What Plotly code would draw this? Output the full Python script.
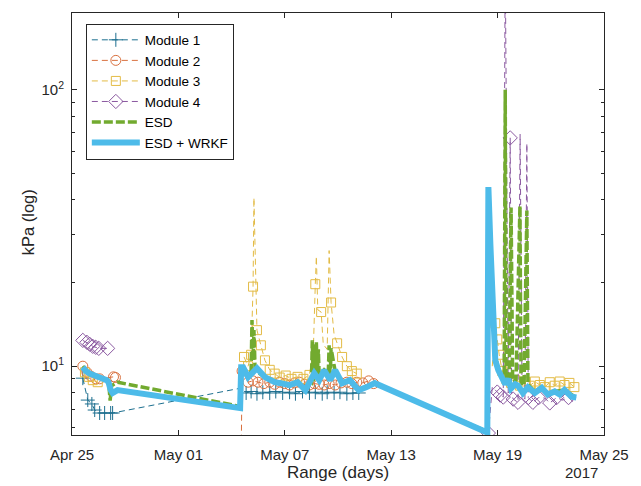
import pandas as pd
import plotly.graph_objects as go

BASE = pd.Timestamp("2017-04-25")

# ---- data (day offsets from Apr 25 2017, values in kPa) ----
m1_d = [0.61, 0.89, 1.12, 1.28, 1.56, 1.84, 2.18, 2.29,
        9.40, 9.82, 10.10, 10.43, 10.76, 11.15, 11.49, 11.88, 12.27, 12.60,
        13.00, 13.39, 13.72, 14.11, 14.39, 14.78, 15.11, 15.50, 15.84, 16.17]
m1_v = [9.05, 7.54, 7.3, 6.94, 6.77, 6.77, 6.77, 6.77,
        8.3, 8.0, 8.1, 7.95, 8.05, 8.0, 8.1, 8.0, 8.05, 7.95,
        8.1, 8.0, 8.05, 7.95, 8.05, 8.0, 8.05, 7.95, 8.0, 8.0]
m1_mark = [1] * len(m1_d)
m1_mark[8] = 0

m2_d = [0.61, 0.84, 1.06, 1.34, 1.56, 2.34, 2.45, None,
        9.51, 9.59, 9.93, 10.20, 10.49, 10.82, 11.15, 11.43, 11.71, 11.99, 12.27,
        12.55, 12.83, 13.11, 13.39, 13.66, 13.94, 14.22, 14.50, 14.84, 15.17,
        15.50, 15.78, 16.06, 16.40, 16.73, 17.01]
m2_v = [10.0, 9.5, 9.2, 9.0, 9.0, 9.15, 9.1, None,
        3.0, 9.6, 8.75, 8.85, 8.75, 8.65, 8.75, 8.6, 8.75, 8.65, 8.55,
        8.7, 8.75, 8.6, 8.55, 8.65, 8.6, 8.55, 8.65, 8.55, 8.7,
        8.75, 8.65, 8.75, 8.7, 8.85, 8.65]
m2_mark = [1] * len(m2_d)
m2_mark[8] = 0

m3_d = [0.73, 0.95, 1.17, 1.45, None,
        9.70, 9.93, 10.10, 10.21, 10.26, 10.35, 10.43, 10.65, 10.88, 11.15, 11.43,
        11.71, 12.05, 12.38, 12.72, 13.05, 13.39, 13.61, 13.72, 13.78, 13.86,
        14.05, 14.17, 14.39, 14.50, 14.61, 14.78, 14.95, 15.23, 15.50, 15.78, 16.06,
        None,
        23.70, 23.87, 23.98, 24.09, 24.26, 24.48, 24.76, 24.99, 25.27, 25.54,
        25.82, 26.10, 26.38, 26.66, 26.94, 27.22, 27.50, 27.77, 28.05, 28.33]
m3_v = [9.5, 9.15, 8.9, 8.75, None,
        10.8, 10.0, 11.0, 19.4, 40.7, 19.0, 13.5, 11.9, 10.5, 9.7, 9.4,
        9.1, 9.25, 9.0, 9.15, 9.0, 9.3, 11.5, 19.8, 25.0, 16.0,
        15.7, 12.0, 11.5, 26.2, 17.0, 13.0, 12.1, 10.8, 10.0, 9.6, 9.4,
        None,
        10.0, 14.3, 12.5, 11.0, 9.6, 9.0, 8.7, 8.9, 8.5, 8.8,
        8.5, 8.8, 8.55, 8.4, 8.75, 8.5, 8.8, 8.55, 8.7, 8.4]
m3_mark = [1] * len(m3_d)
for i in (9, 10, 22, 24, 25, 27, 28, 29, 31, 38):
    m3_mark[i] = 0

m4_d = [0.61, 0.84, 1.00, 1.17, 1.34, 1.51, 2.01, None,
        23.48, 23.70, 23.87, 23.98, 24.15, 24.32, 24.43, 24.60, 24.71, 24.79,
        24.88, 25.15, 25.27, 25.38, 25.54, 25.65, 25.73, 25.99, 26.32, 26.66,
        26.94, 27.33, 27.66, 28.00, 28.33]
m4_v = [12.4, 12.2, 12.0, 11.8, 11.7, 11.6, 11.6, None,
        5.73, 8.4, 8.2, 8.06, 7.86, 7.73, 300.0, 8.0, 67.0, 7.9,
        7.6, 7.4, 69.0, 7.8, 7.6, 64.0, 7.7, 7.4, 7.7, 7.67,
        7.36, 7.7, 7.54, 7.7, 7.36]
m4_mark = [1] * len(m4_d)
for i in (9, 10, 14, 15, 17, 20, 21, 22, 23, 27, 30, 32):
    m4_mark[i] = 0

esd_d = [0.61, 0.78, 1.00, 1.28, 1.56, 1.90, 2.06, 2.15, 2.23, 2.57, 9.48,
         9.54, 9.70, 9.93, 10.10, 10.15, 10.21, 10.26, 10.32, 10.49, 10.88, 11.43,
         11.77, 12.27, 12.72, 13.16, 13.50, 13.55, 13.61, 13.66, 13.72, 13.78,
         13.83, 13.89, 13.94, 14.22, 14.45, 14.50, 14.56, 14.61, 14.84, 15.23,
         15.67, 16.17, 16.62, 17.07, 23.42,
         23.48, 23.70, 23.87, 24.04, 24.21, 24.37, 24.43, 24.48, 24.65, 24.76,
         24.85, 25.04, 25.26, 25.32, 25.49, 25.65, 25.71, 26.10, 26.49, 26.83,
         27.22, 27.77, 28.44]
esd_v = [10.0, 9.7, 9.45, 9.25, 9.15, 9.0, 8.9, 7.5, 8.5, 8.75, 7.15,
         9.9, 9.7, 9.2, 9.6, 14.7, 10.5, 13.5, 9.8, 9.5, 9.1, 8.8,
         8.7, 8.55, 8.75, 8.25, 8.6, 12.4, 8.8, 12.0, 9.0, 12.2,
         9.0, 11.5, 9.2, 9.7, 9.4, 11.9, 9.0, 11.6, 9.6, 8.7,
         8.9, 8.2, 8.4, 8.7, 5.8,
         40.0, 20.0, 11.0, 9.7, 9.2, 9.0, 100.0, 9.0, 8.9, 37.5,
         8.8, 8.9, 38.0, 8.8, 8.5, 36.6, 8.6, 8.1, 8.4, 7.9,
         8.1, 8.2, 7.7]

wrkf_d = [0.61, 0.78, 1.00, 1.28, 1.56, 1.95, 2.06, 2.18, 2.29, 2.57, 9.48,
          9.54, 9.65, 9.93, 10.43, 10.88, 11.43, 11.77, 12.27, 12.72, 13.16,
          13.66, 13.94, 14.22, 14.56, 14.84, 15.23, 15.67, 16.17, 16.62, 17.07,
          23.42, 23.48, 23.59, 23.70, 23.76, 23.87, 24.04, 24.26, 24.43, 24.60,
          24.76, 24.99, 25.15, 25.43, 25.71, 26.10, 26.49, 26.83, 27.22, 27.50,
          27.77, 28.17, 28.44]
wrkf_v = [9.92, 9.6, 9.4, 9.2, 9.1, 8.9, 8.75, 8.2, 8.0, 8.19, 7.05,
          9.92, 9.92, 9.13, 9.83, 9.13, 8.75, 8.68, 8.54, 8.75, 8.19,
          9.43, 8.9, 9.67, 8.9, 9.67, 8.68, 8.9, 8.19, 8.40, 8.68,
          5.75, 44.5, 27.8, 18.3, 12.1, 10.5, 9.67, 9.0, 8.6, 9.0,
          8.3, 8.6, 8.5, 8.0, 8.4, 8.0, 8.35, 7.9, 8.1, 7.9,
          8.2, 7.75, 7.7]

tick_dates = ["2017-04-25", "2017-05-01", "2017-05-07", "2017-05-13", "2017-05-19", "2017-05-25"]
tick_text = ["Apr 25", "May 01", "May 07", "May 13", "May 19", "May 25"]
y_tick_vals = [10, 100]
y_tick_text = ["10<sup>1</sup>", "10<sup>2</sup>"]
y_minor_vals = [6, 7, 8, 9, 20, 30, 40, 50, 60, 70, 80, 90]


def to_dt(days):
    return [None if d is None else BASE + pd.Timedelta(days=d) for d in days]


FONT = "Liberation Sans, Arial, Helvetica, sans-serif"
TXT = "#262626"

fig = go.Figure()

modules = [
    ("Module 1", m1_d, m1_v, m1_mark, "#1d6f8f", "cross-thin-open", 10),
    ("Module 2", m2_d, m2_v, m2_mark, "#d9703e", "circle-open", 10),
    ("Module 3", m3_d, m3_v, m3_mark, "#e3bb45", "square-open", 9),
    ("Module 4", m4_d, m4_v, m4_mark, "#8a58a0", "diamond-open", 11),
]

for name, d, v, mk, col, sym, sz in modules:
    x = to_dt(d)
    fig.add_trace(go.Scatter(x=x, y=v, mode="lines", showlegend=False,
                             line=dict(color=col, width=1, dash="6px,4px"),
                             connectgaps=False, hoverinfo="skip"))
    xm = [xx for xx, m in zip(x, mk) if m and xx is not None]
    ym = [yy for yy, m, xx in zip(v, mk, x) if m and xx is not None]
    fig.add_trace(go.Scatter(x=xm, y=ym, mode="markers", showlegend=False,
                             marker=dict(symbol=sym, size=sz, color=col,
                                         line=dict(color=col, width=1))))

fig.add_trace(go.Scatter(x=to_dt(esd_d), y=esd_v, mode="lines", showlegend=False,
                         line=dict(color="#72aa2f", width=3.5, dash="9px,3px")))
fig.add_trace(go.Scatter(x=to_dt(wrkf_d), y=wrkf_v, mode="lines", showlegend=False,
                         line=dict(color="#4dbbe9", width=6)))

# legend entries
for name, d, v, mk, col, sym, sz in modules:
    fig.add_trace(go.Scatter(x=[None], y=[None], mode="lines+markers", name=name,
                             line=dict(color=col, width=1, dash="6px,4px"),
                             marker=dict(symbol=sym, size=sz, color=col,
                                         line=dict(color=col, width=1))))
fig.add_trace(go.Scatter(x=[None], y=[None], mode="lines", name="ESD",
                         line=dict(color="#72aa2f", width=3.5, dash="9px,3px")))
fig.add_trace(go.Scatter(x=[None], y=[None], mode="lines", name="ESD + WRKF",
                         line=dict(color="#4dbbe9", width=6)))

fig.update_layout(
    width=641, height=486,
    margin=dict(l=72, r=31, t=12, b=51),
    paper_bgcolor="white", plot_bgcolor="white",
    font=dict(family=FONT, color=TXT, size=15),
    legend=dict(x=0.026, y=0.975, xanchor="left", yanchor="top",
                bordercolor=TXT, borderwidth=1, bgcolor="white",
                font=dict(size=13.5, color="black"), itemwidth=48,
                tracegroupgap=0),
    showlegend=True,
)

fig.update_xaxes(
    type="date",
    range=["2017-04-25", "2017-05-25"],
    tickmode="array", tickvals=tick_dates, ticktext=tick_text,
    ticks="inside", ticklen=5, tickcolor=TXT, tickwidth=1,
    showline=True, linecolor=TXT, linewidth=1, mirror="ticks",
    showgrid=False, zeroline=False,
    tickfont=dict(size=15, color=TXT), ticklabelstandoff=6,
)
fig.update_yaxes(
    type="log",
    range=[0.751, 2.278],
    tickmode="array", tickvals=y_tick_vals, ticktext=y_tick_text,
    ticks="inside", ticklen=5, tickcolor=TXT, tickwidth=1,
    minor=dict(tickmode="array", tickvals=y_minor_vals, ticks="inside",
               ticklen=3, tickcolor=TXT, showgrid=False),
    showline=True, linecolor=TXT, linewidth=1, mirror="ticks",
    showgrid=False, zeroline=False,
    tickfont=dict(size=15, color=TXT), ticklabelstandoff=4,
)

fig.add_annotation(text="Range (days)", xref="paper", yref="paper",
                   x=0.5, y=-0.09, xanchor="center", yanchor="middle",
                   showarrow=False, font=dict(size=17, color=TXT))
fig.add_annotation(text="kPa (log)", xref="paper", yref="paper",
                   x=-0.082, y=0.505, xanchor="center", yanchor="middle",
                   textangle=-90, showarrow=False, font=dict(size=16.5, color=TXT))
fig.add_annotation(text="2017", xref="paper", yref="paper",
                   x=0.958, y=-0.09, xanchor="center", yanchor="middle",
                   showarrow=False, font=dict(size=15, color=TXT))

fig.write_html("out.html")
